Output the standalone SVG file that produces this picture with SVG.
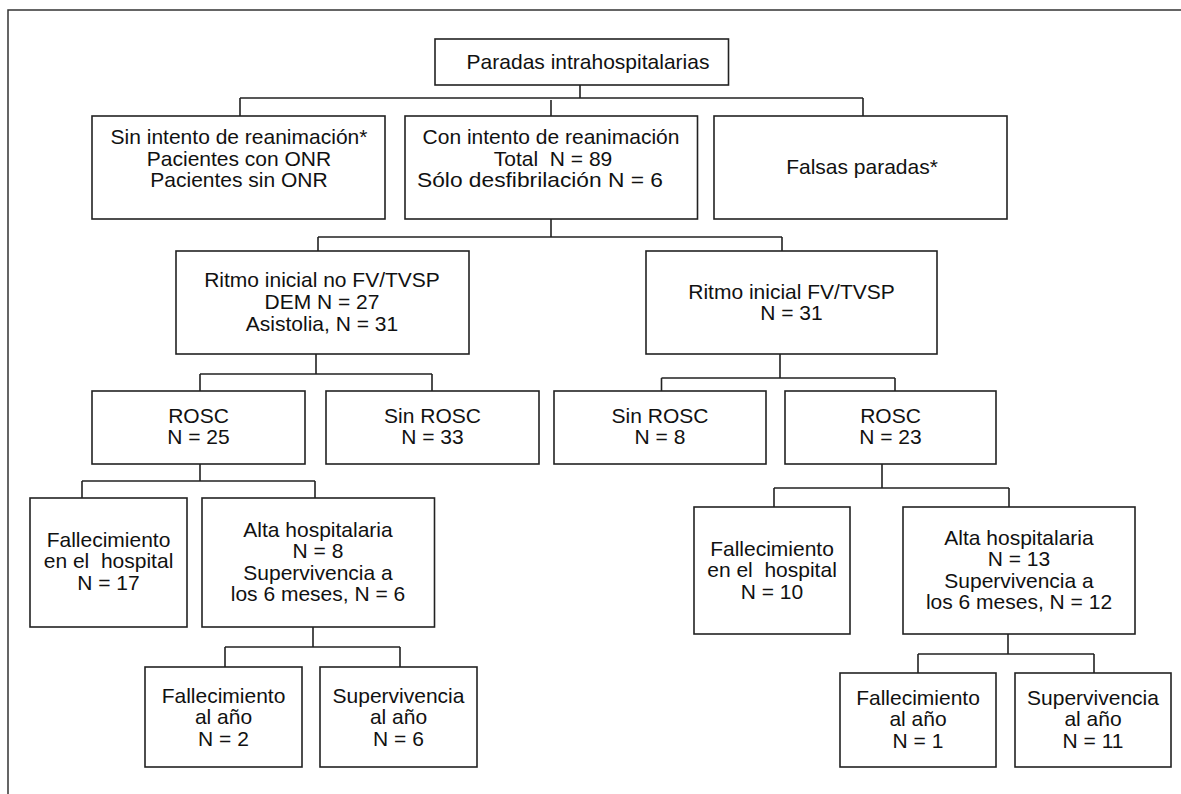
<svg xmlns="http://www.w3.org/2000/svg" width="1181" height="794" viewBox="0 0 1181 794">
<style>
.bg{fill:#ffffff}
.frame{fill:none;stroke:#333;stroke-width:1.5}
.box{fill:#ffffff;stroke:#222;stroke-width:1.6}
.conn{fill:none;stroke:#222;stroke-width:1.6}
text{font-family:"Liberation Sans",Arial,Helvetica,sans-serif;font-size:21px;fill:#111;text-anchor:middle;white-space:pre}
</style>
<rect class="bg" x="0" y="0" width="1181" height="794"/>
<polyline class="frame" points="8,794 8,10 1181,10"/>
<g id="connectors">
<path class="conn" d="M580,85 V98 M240,98 H863 M240,98 V116 M863,98 V116 M551,100 V116"/>
<path class="conn" d="M551,219 V237 M318,237 H782 M318,237 V251 M782,237 V251"/>
<path class="conn" d="M316,354 V374 M200,374 H432 M200,374 V391 M432,374 V391"/>
<path class="conn" d="M780,354 V378 M661.5,378 H895 M661.5,378 V391 M895,378 V391"/>
<path class="conn" d="M200,464 V481 M82,481 H315 M82,481 V498 M315,481 V498"/>
<path class="conn" d="M882,464 V488 M774,488 H1009 M774,488 V507 M1009,488 V507"/>
<path class="conn" d="M313,627 V647 M225,647 H400 M225,647 V667 M400,647 V667"/>
<path class="conn" d="M1008,634 V654 M918,654 H1094 M918,654 V673 M1094,654 V673"/>
</g>
<g id="root">
<rect class="box" x="435" y="39" width="293.5" height="46"/>
<text x="588" y="68.5">Paradas intrahospitalarias</text>
</g>
<g id="sin-intento">
<rect class="box" x="92" y="116" width="293" height="103"/>
<text x="239" y="144">Sin intento de reanimación*</text>
<text x="239" y="165.5">Pacientes con ONR</text>
<text x="239" y="187">Pacientes sin ONR</text>
</g>
<g id="con-intento">
<rect class="box" x="405" y="116" width="292.5" height="103"/>
<text x="551" y="144">Con intento de reanimación</text>
<text x="553" y="165.5">Total  N = 89</text>
<text x="540" y="187" textLength="246" lengthAdjust="spacingAndGlyphs">Sólo desfibrilación N = 6</text>
</g>
<g id="falsas">
<rect class="box" x="714" y="116" width="293" height="103"/>
<text x="862" y="173.5">Falsas paradas*</text>
</g>
<g id="ritmo-no-fv">
<rect class="box" x="176" y="251" width="293" height="103"/>
<text x="322" y="287">Ritmo inicial no FV/TVSP</text>
<text x="322" y="308.5">DEM N = 27</text>
<text x="322" y="330.5">Asistolia, N = 31</text>
</g>
<g id="ritmo-fv">
<rect class="box" x="646" y="251" width="291" height="103"/>
<text x="791.5" y="298.5">Ritmo inicial FV/TVSP</text>
<text x="791.5" y="320">N = 31</text>
</g>
<g id="rosc-a">
<rect class="box" x="92" y="391" width="213" height="73"/>
<text x="198.5" y="422.5">ROSC</text>
<text x="198.5" y="444">N = 25</text>
</g>
<g id="sin-rosc-a">
<rect class="box" x="326" y="391" width="213" height="73"/>
<text x="432.5" y="422.5">Sin ROSC</text>
<text x="432.5" y="444">N = 33</text>
</g>
<g id="sin-rosc-b">
<rect class="box" x="554" y="391" width="212" height="73"/>
<text x="660" y="422.5">Sin ROSC</text>
<text x="660" y="444">N = 8</text>
</g>
<g id="rosc-b">
<rect class="box" x="785" y="391" width="211" height="73"/>
<text x="890.5" y="422.5">ROSC</text>
<text x="890.5" y="444">N = 23</text>
</g>
<g id="fallec-hosp-a">
<rect class="box" x="30" y="498" width="157" height="129"/>
<text x="108.5" y="546.5">Fallecimiento</text>
<text x="108.5" y="568">en el  hospital</text>
<text x="108.5" y="589.5">N = 17</text>
</g>
<g id="alta-a">
<rect class="box" x="202" y="498" width="232.5" height="129"/>
<text x="318" y="536.5">Alta hospitalaria</text>
<text x="318" y="558">N = 8</text>
<text x="318" y="579.5">Supervivencia a</text>
<text x="318" y="601">los 6 meses, N = 6</text>
</g>
<g id="fallec-ano-a">
<rect class="box" x="145" y="667" width="157" height="100"/>
<text x="223.5" y="702.5">Fallecimiento</text>
<text x="223.5" y="724">al año</text>
<text x="223.5" y="745.5">N = 2</text>
</g>
<g id="superv-ano-a">
<rect class="box" x="320" y="667" width="157" height="100"/>
<text x="398.5" y="702.5">Supervivencia</text>
<text x="398.5" y="724">al año</text>
<text x="398.5" y="745.5">N = 6</text>
</g>
<g id="fallec-hosp-b">
<rect class="box" x="694" y="507" width="156" height="127"/>
<text x="772" y="555.5">Fallecimiento</text>
<text x="772" y="577">en el  hospital</text>
<text x="772" y="598.5">N = 10</text>
</g>
<g id="alta-b">
<rect class="box" x="903" y="507" width="232" height="127"/>
<text x="1019" y="544.5">Alta hospitalaria</text>
<text x="1019" y="566">N = 13</text>
<text x="1019" y="587.5">Supervivencia a</text>
<text x="1019" y="609">los 6 meses, N = 12</text>
</g>
<g id="fallec-ano-b">
<rect class="box" x="840" y="673" width="156" height="94"/>
<text x="918" y="704.5">Fallecimiento</text>
<text x="918" y="726">al año</text>
<text x="918" y="747.5">N = 1</text>
</g>
<g id="superv-ano-b">
<rect class="box" x="1015" y="673" width="156" height="94"/>
<text x="1093" y="704.5">Supervivencia</text>
<text x="1093" y="726">al año</text>
<text x="1093" y="747.5">N = 11</text>
</g>
</svg>
